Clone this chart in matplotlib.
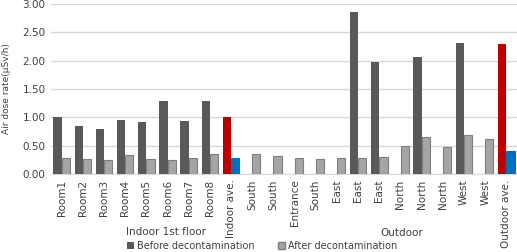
import numpy as np
import matplotlib.pyplot as plt
from matplotlib.patches import Patch

labels = ["Room1", "Room2", "Room3", "Room4", "Room5", "Room6", "Room7", "Room8", "Indoor ave.",
          "South", "South", "Entrance", "South", "East", "East", "East",
          "North", "North", "North", "West", "West", "Outdoor ave."]
before = [1.00, 0.85, 0.80, 0.96, 0.92, 1.28, 0.94, 1.28, 1.00,
          np.nan, np.nan, np.nan, np.nan, np.nan, 2.86, 1.97,
          np.nan, 2.07, np.nan, 2.31, np.nan, 2.30]
after = [0.29, 0.27, 0.25, 0.33, 0.27, 0.25, 0.28, 0.35, 0.28,
         0.35, 0.31, 0.29, 0.26, 0.28, 0.28, 0.30,
         0.49, 0.66, 0.48, 0.68, 0.62, 0.41]
ave_idx = [8, 21]
groups = ["Indoor 1st floor", "Outdoor"]

plt.rcParams['font.family'] = 'DejaVu Sans'

fig = plt.figure(figsize=(5.17, 2.52), dpi=100)
ax = fig.add_axes([51/517, 1-174/252, 466/517, 170/252])

x = np.arange(len(labels))
w = 0.39
c_before = ['#c00000' if i in ave_idx else '#595959' for i in x]
c_after = ['#0070c0' if i in ave_idx else '#a5a5a5' for i in x]
e_after = ['#0070c0' if i in ave_idx else '#7f7f7f' for i in x]
ax.bar(x - w/2, before, w, color=c_before, zorder=3)
ax.bar(x + w/2, after, w, color=c_after, edgecolor=e_after, linewidth=0.8, zorder=3)

ax.set_xlim(-0.5, len(labels) - 0.5)
ax.set_ylim(0, 3.0)
ax.set_yticks(np.arange(0, 3.01, 0.5))
ax.set_yticklabels([f"{v:.2f}" for v in np.arange(0, 3.01, 0.5)], fontsize=7.5, color='#404040')
ax.set_xticks(x)
ax.set_xticklabels(labels, rotation=90, fontsize=7.5, color='#404040')
ax.tick_params(length=0, pad=4)
ax.grid(axis='y', color='#d9d9d9', linewidth=1, zorder=0)
for s in ['top', 'right', 'left']:
    ax.spines[s].set_visible(False)
ax.spines['bottom'].set_color('#d9d9d9')
ax.set_ylabel("Air dose rate(μSv/h)", fontsize=6.5, color='#404040')
ax.yaxis.set_label_coords(-40/466, 0.5)

fig.text(166/517, 1-232/252, groups[0], fontsize=7.5, color='#404040', ha='center', va='center')
fig.text(402/517, 1-233/252, groups[1], fontsize=7.5, color='#404040', ha='center', va='center')

handles = [Patch(facecolor='#595959', label='Before decontamination'),
           Patch(facecolor='#a5a5a5', edgecolor='#7f7f7f', label='After decontamination')]
fig.legend(handles=handles, loc='center', bbox_to_anchor=(262/517, 1-246/252), ncol=2,
           frameon=False, fontsize=7, handlelength=0.7, handleheight=0.7,
           handletextpad=0.3, columnspacing=2.4, labelcolor='#404040')

fig.savefig('out.png', dpi=100)
